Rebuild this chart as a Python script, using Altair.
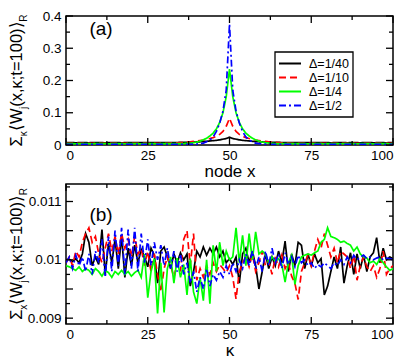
import altair as alt
import pandas as pd

FONT = "Liberation Sans"
SERIES = ["Δ=1/40", "Δ=1/10", "Δ=1/4", "Δ=1/2"]
COLORS = ["#000000", "#ff0000", "#00ff00", "#0000ff"]
DASHES = [[1, 0], [7, 4], [1, 0], [7, 3, 2, 3]]

node_x = list(range(101))
kappa = list(range(101))

# panel (a): sum over kappa vs node x
a_1_40 = [
    0.0072, 0.0071, 0.0072, 0.0070, 0.0071, 0.0072, 0.0071, 0.0070, 0.0072, 0.0071,
    0.0072, 0.0071, 0.0070, 0.0071, 0.0072, 0.0071, 0.0072, 0.0070, 0.0071, 0.0072,
    0.0071, 0.0072, 0.0071, 0.0072, 0.0073, 0.0072, 0.0073, 0.0074, 0.0073, 0.0074,
    0.0075, 0.0074, 0.0076, 0.0077, 0.0078, 0.0079,
    0.0080, 0.0082, 0.0085, 0.0090, 0.0095, 0.0100, 0.0108,
    0.0115, 0.0125, 0.0135, 0.0145, 0.0160, 0.0180, 0.0200,
    0.0240,
    0.0200, 0.0180, 0.0160, 0.0145, 0.0135, 0.0125, 0.0115,
    0.0108, 0.0100, 0.0095, 0.0090, 0.0085, 0.0082, 0.0080,
    0.0079, 0.0078, 0.0077, 0.0076, 0.0075, 0.0074, 0.0073, 0.0074, 0.0073, 0.0072,
    0.0073, 0.0072, 0.0071, 0.0072, 0.0071, 0.0072, 0.0070, 0.0071, 0.0072, 0.0071,
    0.0072, 0.0070, 0.0071, 0.0072, 0.0071, 0.0070, 0.0072, 0.0071, 0.0072, 0.0070,
    0.0071, 0.0072, 0.0071, 0.0070, 0.0072, 0.0071]
a_1_10 = [
    0.0050, 0.0051, 0.0050, 0.0049, 0.0050, 0.0051, 0.0050, 0.0050, 0.0049, 0.0050,
    0.0051, 0.0050, 0.0050, 0.0051, 0.0050, 0.0049, 0.0050, 0.0051, 0.0050, 0.0050,
    0.0051, 0.0050, 0.0050, 0.0051, 0.0051, 0.0052, 0.0052, 0.0053, 0.0053, 0.0054,
    0.0054,
    0.0055, 0.0058, 0.0062, 0.0066, 0.0072, 0.0080, 0.0090, 0.0100, 0.0112,
    0.0125, 0.0140, 0.0155, 0.0175, 0.0200, 0.0230, 0.0270, 0.0330, 0.0420, 0.0580,
    0.0830,
    0.0580, 0.0420, 0.0330, 0.0270, 0.0230, 0.0200, 0.0175, 0.0155, 0.0140, 0.0125,
    0.0112, 0.0100, 0.0090, 0.0080, 0.0072, 0.0066, 0.0062, 0.0058, 0.0055,
    0.0054, 0.0054, 0.0053, 0.0053, 0.0052, 0.0052, 0.0051, 0.0051, 0.0050, 0.0050,
    0.0051, 0.0050, 0.0049, 0.0050, 0.0051, 0.0050, 0.0050, 0.0049, 0.0050, 0.0051,
    0.0050, 0.0050, 0.0051, 0.0050, 0.0049, 0.0050, 0.0050, 0.0051, 0.0050, 0.0050,
    0.0050]
a_1_4 = [
    0.0040, 0.0041, 0.0040, 0.0039, 0.0040, 0.0040, 0.0041, 0.0040, 0.0039, 0.0040,
    0.0040, 0.0041, 0.0040, 0.0039, 0.0040, 0.0040, 0.0041, 0.0040, 0.0039, 0.0040,
    0.0040, 0.0041, 0.0040, 0.0039, 0.0040, 0.0040, 0.0041, 0.0040, 0.0039, 0.0040,
    0.0040, 0.0041, 0.0041, 0.0042, 0.0043, 0.0044, 0.0046,
    0.0050, 0.0060, 0.0070, 0.0090, 0.0120, 0.0160, 0.0210, 0.0280, 0.0370, 0.0500,
    0.0700, 0.1000, 0.1500,
    0.2350,
    0.1500, 0.1000, 0.0700, 0.0500, 0.0370, 0.0280, 0.0210, 0.0160, 0.0120, 0.0090,
    0.0070, 0.0060, 0.0050,
    0.0046, 0.0044, 0.0043, 0.0042, 0.0041, 0.0041, 0.0040,
    0.0040, 0.0041, 0.0040, 0.0039, 0.0040, 0.0040, 0.0041, 0.0040, 0.0039, 0.0040,
    0.0040, 0.0041, 0.0040, 0.0039, 0.0040, 0.0040, 0.0041, 0.0040, 0.0039, 0.0040,
    0.0040, 0.0041, 0.0040, 0.0039, 0.0040, 0.0040, 0.0041, 0.0040, 0.0039, 0.0040]
a_1_2 = [
    0.0020, 0.0020, 0.0021, 0.0020, 0.0019, 0.0020, 0.0020, 0.0021, 0.0020, 0.0019,
    0.0020, 0.0020, 0.0021, 0.0020, 0.0019, 0.0020, 0.0020, 0.0021, 0.0020, 0.0019,
    0.0020, 0.0020, 0.0021, 0.0020, 0.0019, 0.0020, 0.0020, 0.0021, 0.0020, 0.0019,
    0.0020, 0.0020, 0.0021, 0.0021, 0.0021, 0.0022, 0.0022, 0.0023, 0.0024,
    0.0025, 0.0030, 0.0040, 0.0060, 0.0100, 0.0150, 0.0250, 0.0420, 0.0680, 0.1050,
    0.1700,
    0.3750,
    0.1700, 0.1050, 0.0680, 0.0420, 0.0250, 0.0150, 0.0100, 0.0060, 0.0040, 0.0030,
    0.0025,
    0.0024, 0.0023, 0.0022, 0.0022, 0.0021, 0.0021, 0.0021, 0.0020, 0.0020,
    0.0019, 0.0020, 0.0021, 0.0020, 0.0020, 0.0019, 0.0020, 0.0021, 0.0020, 0.0020,
    0.0019, 0.0020, 0.0021, 0.0020, 0.0020, 0.0019, 0.0020, 0.0021, 0.0020, 0.0020,
    0.0019, 0.0020, 0.0021, 0.0020, 0.0020, 0.0019, 0.0020, 0.0021, 0.0020, 0.0020]

# panel (b): sum over x vs kappa
b_1_40 = [
    0.01000, 0.01001, 0.00997, 0.01002, 0.00995, 0.01010, 0.01045, 0.01030, 0.00990, 0.01005,
    0.00992, 0.01052, 0.00975, 0.01028, 0.00995, 0.01035, 0.00985, 0.01040, 0.00970, 0.01020,
    0.00990, 0.01025, 0.00995, 0.01018, 0.01005, 0.00988, 0.01020, 0.01008, 0.00960, 0.01015,
    0.01022, 0.01005, 0.00985, 0.01010, 0.00995, 0.01012, 0.01000, 0.01010, 0.00955, 0.00980,
    0.01015, 0.01005, 0.01022, 0.01008, 0.01020, 0.01010, 0.01022, 0.01005, 0.01015, 0.00995,
    0.01002, 0.00992, 0.01005, 0.00960, 0.01010, 0.01020, 0.00995, 0.01015, 0.00990, 0.00950,
    0.00980, 0.01010, 0.00985, 0.01005, 0.00990, 0.01015, 0.00995, 0.01032, 0.00980, 0.01010,
    0.00990, 0.01030, 0.01025, 0.00985, 0.01010, 0.00990, 0.01010, 0.00995, 0.01002, 0.00940,
    0.00955, 0.00980, 0.01005, 0.00985, 0.01022, 0.00960, 0.00990, 0.01012, 0.00975, 0.01010,
    0.00985, 0.01008, 0.00980, 0.01005, 0.01012, 0.01038, 0.00995, 0.01020, 0.01000, 0.01005,
    0.01002]
b_1_10 = [
    0.00995, 0.01005, 0.00990, 0.01015, 0.01005, 0.01030, 0.01045, 0.01055, 0.01030, 0.01040,
    0.01010, 0.00995, 0.01020, 0.01045, 0.01015, 0.01040, 0.01010, 0.01045, 0.01020, 0.01035,
    0.01005, 0.01040, 0.01010, 0.01020, 0.00990, 0.01015, 0.00980, 0.01010, 0.00975, 0.00945,
    0.00985, 0.01005, 0.00990, 0.00970, 0.00995, 0.00980, 0.01035, 0.01050, 0.00990, 0.01045,
    0.00965, 0.00985, 0.00970, 0.00990, 0.00975, 0.00995, 0.00980, 0.00992, 0.00985, 0.00978,
    0.00990, 0.00970, 0.00933, 0.00980, 0.00995, 0.01005, 0.00988, 0.01010, 0.00980, 0.00995,
    0.01015, 0.00990, 0.00998, 0.00975, 0.01005, 0.00988, 0.01008, 0.00985, 0.00995, 0.00972,
    0.00960, 0.00932, 0.00980, 0.00995, 0.01008, 0.00990, 0.01015, 0.01035, 0.01020, 0.01045,
    0.01025, 0.01005, 0.01020, 0.00995, 0.01015, 0.01010, 0.01005, 0.00985, 0.01008, 0.00965,
    0.00990, 0.01005, 0.00988, 0.00980, 0.00990, 0.00970, 0.00985, 0.01015, 0.00975, 0.00985,
    0.00990]
b_1_4 = [
    0.00990, 0.00988, 0.00985, 0.00982, 0.00988, 0.00980, 0.00985, 0.00982, 0.00975, 0.00985,
    0.00980, 0.00972, 0.00982, 0.00978, 0.00970, 0.00980, 0.00975, 0.00982, 0.00975, 0.00980,
    0.00972, 0.00978, 0.00982, 0.00970, 0.01010, 0.00935, 0.00980, 0.01002, 0.00908, 0.00995,
    0.00910, 0.00985, 0.01005, 0.00960, 0.01003, 0.00970, 0.00992, 0.00940, 0.01002, 0.00945,
    0.00925, 0.00970, 0.00930, 0.01000, 0.00925, 0.01025, 0.00980, 0.01030, 0.00990, 0.01015,
    0.01000, 0.01005, 0.01055, 0.00995, 0.01042, 0.00990, 0.01045, 0.01000, 0.01048, 0.01010,
    0.01015, 0.01010, 0.00995, 0.01005, 0.00998, 0.01002, 0.00992, 0.00962, 0.00995, 0.01008,
    0.00958, 0.00990, 0.01005, 0.01008, 0.01010, 0.01008, 0.01012, 0.01015, 0.01030, 0.01035,
    0.01055, 0.01040, 0.01038, 0.01035, 0.01030, 0.01032, 0.01028, 0.01025, 0.01015, 0.01022,
    0.01010, 0.01005, 0.01003, 0.00995, 0.00998, 0.00992, 0.01002, 0.00995, 0.00988, 0.00982,
    0.00985]
b_1_2 = [
    0.00995, 0.01005, 0.00985, 0.01008, 0.00990, 0.01005, 0.00980, 0.01010, 0.00975, 0.01015,
    0.00995, 0.01035, 0.00970, 0.01040, 0.00980, 0.01050, 0.00990, 0.01055, 0.00975, 0.01052,
    0.00985, 0.01055, 0.00980, 0.01045, 0.00995, 0.01035, 0.00990, 0.01030, 0.01000, 0.01025,
    0.00990, 0.01020, 0.00985, 0.01015, 0.00980, 0.01010, 0.00975, 0.00995, 0.00960, 0.00980,
    0.00945, 0.00970, 0.00950, 0.00985, 0.00955, 0.00975, 0.00965, 0.00980, 0.00970, 0.00990,
    0.00975, 0.00995, 0.00980, 0.01000, 0.00985, 0.01010, 0.00990, 0.01015, 0.00985, 0.01005,
    0.00980, 0.01015, 0.00990, 0.01020, 0.00995, 0.01010, 0.00985, 0.01012, 0.00992, 0.01005,
    0.00988, 0.01008, 0.00995, 0.01000, 0.00990, 0.00995, 0.00985, 0.00992, 0.00988, 0.00995,
    0.00990, 0.00985, 0.00995, 0.00990, 0.01000, 0.00992, 0.01005, 0.00995, 0.01008, 0.01000,
    0.01005, 0.01008, 0.01002, 0.01005, 0.01000, 0.01003, 0.01005, 0.01000, 0.01003, 0.01002,
    0.01000]

X_MAJOR = [0, 25, 50, 75, 100]
X_MINOR = [12.5, 37.5, 62.5, 87.5]
A_Y_LABELS = [0, 0.1, 0.2, 0.3, 0.4]
A_Y_MINOR = [0.05, 0.15, 0.25, 0.35]
B_Y_LABELS = [0.009, 0.01, 0.011]
B_Y_MAJOR = [0.009, 0.0095, 0.01, 0.0105, 0.011]
B_Y_MINOR = [0.00925, 0.00975, 0.01025, 0.01075, 0.01125]
A_DOMAIN = [0, 0.4]
B_DOMAIN = [0.0089, 0.0113]

W = 327
HA = 129
HB = 140
FS_MAIN = 16.5
FS_SUB = 10

EM = {"Σ": 0.62, "κ": 0.512, "⟨": 0.39, "⟩": 0.39, "W": 0.944, "j": 0.222,
      "(": 0.333, ")": 0.333, "x": 0.5, ",": 0.278, ";": 0.278, "t": 0.278,
      "=": 0.584, "1": 0.556, "0": 0.556, "R": 0.722}


def long_frame(xs, series_values):
    rows = []
    for i, (name, vals) in enumerate(zip(SERIES, series_values)):
        for x, v in zip(xs, vals):
            rows.append({"x": x, "value": v, "series": name, "k": i})
    return pd.DataFrame(rows)


def legend_layers():
    one = pd.DataFrame({"a": [0]})
    out = [alt.Chart(one).mark_rect(fill="white", stroke="black", strokeWidth=1.3).encode(
        x=alt.value(209), x2=alt.value(287), y=alt.value(36), y2=alt.value(101))]
    for i, (name, col, dash) in enumerate(zip(SERIES, COLORS, DASHES)):
        yy = 47.5 + 14 * i
        out.append(alt.Chart(one).mark_rule(color=col, strokeDash=dash, strokeWidth=2).encode(
            x=alt.value(213), x2=alt.value(235), y=alt.value(yy)))
        out.append(alt.Chart(pd.DataFrame({"t": [name]})).mark_text(
            align="left", baseline="middle", font=FONT, fontSize=12.5, color="black").encode(
            text="t:N", x=alt.value(243), y=alt.value(yy + 0.5)))
    return out


def panel(df, ydomain, ylabels, ymajor, yminor, h, xtitle, tag, tag_y, pieces, legend, xlabel_pad, xtitle_pad):
    xs = alt.Scale(domain=[0, 100], nice=False, zero=False)
    ys = alt.Scale(domain=ydomain, nice=False, zero=False)
    xaxis = alt.Axis(values=X_MAJOR, title=xtitle, labelPadding=xlabel_pad,
                     titlePadding=xtitle_pad, titleFontSize=17, labelFontSize=13.5)
    yaxis = alt.Axis(values=ylabels, format="~g", title=None, labelPadding=5, labelFontSize=13.5)

    lines = alt.Chart(df).mark_line(strokeWidth=1.7, clip=True).encode(
        x=alt.X("x:Q", scale=xs, axis=xaxis),
        y=alt.Y("value:Q", scale=ys, axis=yaxis),
        color=alt.Color("series:N", scale=alt.Scale(domain=SERIES, range=COLORS), legend=None),
        strokeDash=alt.StrokeDash("series:N", scale=alt.Scale(domain=SERIES, range=DASHES), legend=None),
        detail="series:N",
    )

    # inward ticks on all four sides of the frame
    ticks = []
    for vals, L in ((X_MAJOR, 7), (X_MINOR, 4)):
        base = alt.Chart(pd.DataFrame({"x": vals})).mark_rule(color="black", strokeWidth=1.3)
        ticks.append(base.encode(x=alt.X("x:Q", scale=xs, axis=xaxis), y=alt.value(h), y2=alt.value(h - L)))
        ticks.append(base.encode(x=alt.X("x:Q", scale=xs, axis=xaxis), y=alt.value(0), y2=alt.value(L)))
    for vals, L in ((ymajor, 7), (yminor, 4)):
        base = alt.Chart(pd.DataFrame({"value": vals})).mark_rule(color="black", strokeWidth=1.3)
        ticks.append(base.encode(y=alt.Y("value:Q", scale=ys, axis=yaxis), x=alt.value(0), x2=alt.value(L)))
        ticks.append(base.encode(y=alt.Y("value:Q", scale=ys, axis=yaxis), x=alt.value(W), x2=alt.value(W - L)))

    tag_layer = alt.Chart(pd.DataFrame({"x": [10.7], "value": [tag_y], "t": [tag]})).mark_text(
        font=FONT, fontSize=19, color="black"
    ).encode(x=alt.X("x:Q", scale=xs, axis=xaxis), y=alt.Y("value:Q", scale=ys, axis=yaxis), text="t:N")

    # rotated y-axis title with subscripts, written piece by piece
    widths = []
    for text, sub in pieces:
        fs = FS_SUB if sub else FS_MAIN
        widths.append(sum(EM.get(c, 0.55) for c in text) * fs)
    y0 = h / 2 + sum(widths) / 2
    title = []
    cum = 0
    for (text, sub), w in zip(pieces, widths):
        title.append(
            alt.Chart(pd.DataFrame({"t": [text]})).mark_text(
                angle=270, align="left", baseline="alphabetic", font=FONT,
                fontSize=FS_SUB if sub else FS_MAIN, color="black",
            ).encode(text="t:N", x=alt.value(-44 + (4.5 if sub else 0)), y=alt.value(y0 - cum))
        )
        cum += w

    extra = legend_layers() if legend else []
    return alt.layer(lines, *ticks, tag_layer, *title, *extra).properties(width=W, height=h)


df_a = long_frame(node_x, [a_1_40, a_1_10, a_1_4, a_1_2])
df_b = long_frame(kappa, [b_1_40, b_1_10, b_1_4, b_1_2])

top = panel(df_a, A_DOMAIN, A_Y_LABELS, A_Y_LABELS, A_Y_MINOR, HA, "node x", "(a)", 0.36,
            [("Σ", False), ("κ", True), ("⟨W", False), ("j", True), ("(x,κ;t=100)⟩", False), ("R", True)],
            True, 3, 2)
bottom = panel(df_b, B_DOMAIN, B_Y_LABELS, B_Y_MAJOR, B_Y_MINOR, HB, "κ", "(b)", 0.010767,
               [("Σ", False), ("x", True), ("⟨W", False), ("j", True), ("(x,κ;t=100)⟩", False), ("R", True)],
               False, 3, 2)

chart = alt.vconcat(top, bottom, spacing=1).properties(padding=0).configure(font=FONT).configure_view(
    stroke="black", strokeWidth=1.5
).configure_axis(
    grid=False, domain=False, ticks=False, labelColor="black", titleColor="black",
    labelFont=FONT, titleFont=FONT, titleFontWeight="normal"
)

chart.save("out.html", embed_options={"renderer": "svg", "actions": False})
